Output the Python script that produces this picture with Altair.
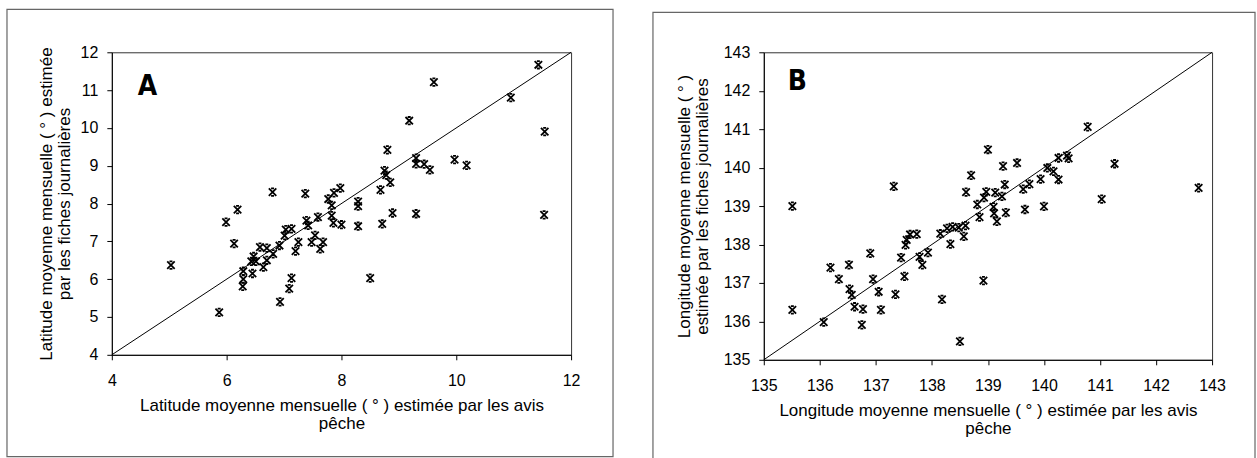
import altair as alt
import pandas as pd

# Panel A: monthly mean latitude (deg) from fishing notices vs. daily log sheets
lat_avis = [11.43, 9.61, 10.95, 9.18, 11.54, 8.80, 9.30, 9.30, 9.44, 9.54,
            9.97, 10.18, 8.75, 8.78, 8.85, 8.68, 8.89, 9.30, 11.53, 8.71,
            8.29, 8.29, 8.29, 8.50, 7.98, 7.87, 7.77, 7.83, 7.83, 7.86,
            8.00, 7.59, 7.37, 6.80, 6.19, 5.99, 6.13, 5.03, 5.87, 7.39,
            7.42, 7.13, 7.03, 7.01, 7.25, 7.20, 7.48, 7.54, 7.68, 7.63,
            6.92, 6.81, 6.58, 6.70, 6.70, 6.64, 6.43, 6.51, 6.47, 6.45,
            6.29, 6.29, 6.28, 7.13, 7.09, 6.93]
lat_fiches = [11.67, 11.21, 10.80, 10.19, 9.90, 9.42, 9.20, 9.05, 9.04, 8.89,
              9.16, 9.01, 8.87, 8.75, 8.56, 8.36, 7.75, 7.73, 7.70, 7.46,
              8.05, 7.93, 7.40, 6.03, 8.41, 8.28, 8.12, 7.95, 7.68, 7.49,
              7.44, 7.64, 8.26, 8.30, 7.84, 7.51, 6.94, 6.37, 5.12, 7.55,
              7.42, 7.33, 7.31, 7.15, 6.98, 6.74, 6.98, 7.16, 6.98, 6.80,
              6.89, 6.67, 6.85, 6.82, 6.50, 6.32, 6.47, 6.47, 6.60, 6.15,
              6.21, 6.00, 5.81, 6.03, 5.75, 5.40]

# Panel B: monthly mean longitude (deg)
lon_avis = [135.51, 135.51, 136.07, 136.19, 136.34, 136.52, 136.53, 136.57, 136.62, 136.77,
            136.75, 136.90, 136.95, 137.05, 137.09, 137.32, 137.35, 137.45, 137.51, 137.53,
            137.55, 137.61, 137.73, 137.78, 137.83, 137.93, 138.15, 138.18, 138.27, 138.37,
            138.48, 138.60, 138.33, 138.57, 138.50, 138.61, 138.70, 138.81, 138.85, 138.92,
            138.93, 138.97, 139.00, 139.13, 139.10, 139.11, 139.16, 139.25, 139.27, 139.30,
            139.32, 139.52, 139.63, 139.66, 139.74, 139.94, 140.00, 140.06, 140.17, 140.26,
            140.26, 140.41, 140.44, 140.78, 141.03, 141.26, 142.76]
lon_fiches = [139.00, 136.30, 135.98, 137.40, 137.10, 137.47, 136.84, 136.69, 136.38, 136.32,
              135.91, 137.77, 137.10, 136.77, 136.30, 139.51, 136.70, 137.66, 137.17, 137.99,
              138.12, 138.26, 138.27, 137.68, 137.47, 137.79, 138.28, 136.57, 138.42, 138.46,
              138.44, 138.49, 138.01, 138.21, 135.48, 139.36, 139.80, 139.04, 138.71, 137.06,
              139.22, 139.37, 140.47, 139.35, 138.98, 138.81, 138.60, 139.25, 140.04, 139.56,
              138.83, 140.12, 139.44, 138.91, 139.57, 139.70, 138.99, 139.99, 139.90, 139.69,
              140.25, 140.31, 140.24, 141.06, 139.18, 140.10, 139.47]

# 1:1 reference lines and axis ticks
diag_lat = [4, 12]
diag_lon = [135, 143]
lat_xticks = [4, 6, 8, 10, 12]
lat_yticks = [4, 5, 6, 7, 8, 9, 10, 11, 12]
lon_ticks = [135, 136, 137, 138, 139, 140, 141, 142, 143]

FONT = "Liberation Sans"
X_MARK = "M-1,-1L1,1M1,-1L-1,1M-0.4,-1L0.4,-1M-0.4,1L0.4,1"


def panel(xs, ys, diag, xticks, yticks, xtitle, ytitle, letter,
          w, h, frame, letter_xy, ytitle_pad):
    pts = pd.DataFrame({"avis": xs, "fiches": ys})
    line = pd.DataFrame({"avis": diag, "fiches": diag})
    dom = [diag[0], diag[1]]
    common = dict(format="d", labelOverlap=False, labelFlush=False, tickSize=5)
    xenc = alt.X("avis:Q", scale=alt.Scale(domain=dom, nice=False, zero=False),
                 axis=alt.Axis(values=xticks, title=xtitle,
                               labelPadding=13, titlePadding=9, **common))
    yenc = alt.Y("fiches:Q", scale=alt.Scale(domain=dom, nice=False, zero=False),
                 axis=alt.Axis(values=yticks, title=ytitle,
                               labelPadding=9, titlePadding=ytitle_pad, **common))

    one = alt.Data(values=[{}])
    fx1, fx2, fy1, fy2 = frame
    border = alt.Chart(one).mark_rect(
        fill="transparent", stroke="#666666", strokeWidth=1.2
    ).encode(x=alt.value(fx1), x2=alt.value(fx2), y=alt.value(fy1), y2=alt.value(fy2))

    diag_line = alt.Chart(line).mark_line(color="black", strokeWidth=1).encode(
        x=xenc, y=yenc)

    marks = alt.Chart(pts).mark_point(
        shape=X_MARK, size=56, filled=False, color="black", strokeWidth=1.8, opacity=1
    ).encode(x=xenc, y=yenc)

    tag = alt.Chart(one).mark_text(
        text=letter, font="DejaVu Sans Condensed", fontWeight="bold", fontSize=28,
        align="left", baseline="alphabetic", color="black"
    ).encode(x=alt.value(letter_xy[0]), y=alt.value(letter_xy[1]))

    return alt.layer(border, diag_line, marks, tag).properties(width=w, height=h)


chart_a = panel(
    lat_avis, lat_fiches, diag_lat, lat_xticks, lat_yticks,
    ["Latitude moyenne mensuelle ( ° ) estimée par les avis", "pêche"],
    ["Latitude moyenne mensuelle ( ° ) estimée", "par les fiches journalières"],
    "A", 460, 303, (-105, 502, -43, 405), (26, 43), 7,
)

chart_b = panel(
    lon_avis, lon_fiches, diag_lon, lon_ticks, lon_ticks,
    ["Longitude moyenne mensuelle ( ° ) estimée par les avis", "pêche"],
    ["Longitude moyenne mensuelle ( ° )", "estimée par les fiches journalières"],
    "B", 449, 308, (-111, 492, -40, 408), (24, 38), 12,
)

chart = alt.hconcat(chart_a, chart_b, spacing=36).properties(
    padding={"left": 5, "top": 7, "right": 0, "bottom": 0}
).configure_view(
    stroke="#333333", strokeWidth=1
).configure_axis(
    grid=False, domainColor="black", tickColor="black", domainWidth=1,
    labelColor="black", titleColor="black", labelFont=FONT, titleFont=FONT,
    labelFontSize=16, titleFontSize=17, titleFontWeight="normal",
    titleLineHeight=18,
)

chart.save("out.html", embed_options={"renderer": "svg", "actions": False})
